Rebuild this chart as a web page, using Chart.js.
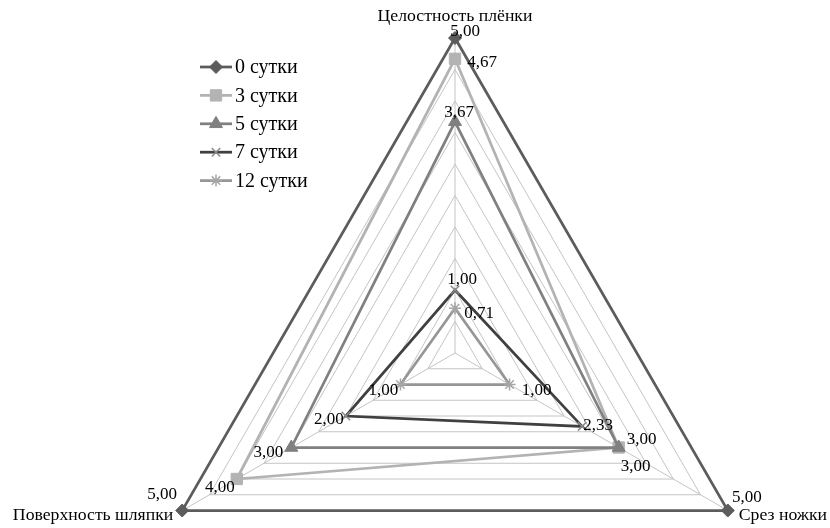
<!DOCTYPE html>
<html>
<head>
<meta charset="utf-8">
<title>Оценка качества</title>
<script src="https://cdn.jsdelivr.net/npm/chart.js@4/dist/chart.umd.min.js"></script>
<style>
  html, body { margin: 0; padding: 0; background: #ffffff; overflow: hidden; }
  #wrap { width: 830px; height: 528px; overflow: hidden; }
  #radar { display: block; }
</style>
</head>
<body>
<div id="wrap"><canvas id="radar" width="830" height="668"></canvas></div>
<script>
// Axes of the radar and the storage-day series
const categories = ['Целостность плёнки', 'Срез ножки', 'Поверхность шляпки'];
const seriesNames = ['0 сутки', '3 сутки', '5 сутки', '7 сутки', '12 сутки'];
const day0 = [5.00, 5.00, 5.00];
const day3 = [4.67, 3.00, 4.00];
const day5 = [3.67, 3.00, 3.00];
const day7 = [1.00, 2.33, 2.00];
const day12 = [0.71, 1.00, 1.00];
const scaleMin = 0;
const scaleMax = 5;
const scaleStep = 0.5;

const seriesValues = [day0, day3, day5, day7, day12];

// Look of each series: colour, marker, and where its value labels sit next to the points
const seriesStyles = [
  { color: '#5c5c5c', marker: 'rectRot', radius: 6.5, markerColor: '#5c5c5c', labelShift: [[10, -7], [19, -14], [-20, -17]] },
  { color: '#b3b3b3', marker: 'rect',    radius: 8,   markerColor: '#b3b3b3', labelShift: [[27, 3], [23, -9], [-17, 8]] },
  { color: '#808080', marker: 'triangle',radius: 7.5, markerColor: '#808080', labelShift: [[4, -10], [17, 18], [-23, 4]] },
  { color: '#404040', marker: 'crossRot',radius: 6,   markerColor: '#8a8a8a', labelShift: [[7, -11], [16, -2], [-17, 3]] },
  { color: '#969696', marker: 'star',    radius: 6,   markerColor: '#a6a6a6', labelShift: [[24, 4], [27, 5], [-17, 5]] }
];

const FONT_FAMILY = '"Liberation Serif", "Times New Roman", serif';
const TEXT_COLOR = '#000000';

function fmt(v) {
  return v.toFixed(2).replace('.', ',');
}

const datasets = seriesNames.map((name, i) => {
  const st = seriesStyles[i];
  return {
    label: name,
    data: seriesValues[i],
    borderColor: st.color,
    backgroundColor: 'rgba(0,0,0,0)',
    borderWidth: 2.75,
    fill: false,
    pointStyle: st.marker,
    pointRadius: st.radius,
    pointBorderColor: st.markerColor,
    pointBackgroundColor: st.markerColor,
    pointBorderWidth: (st.marker === 'crossRot' || st.marker === 'star') ? 1.5 : 1,
    order: seriesNames.length - i,
    labelShift: st.labelShift
  };
});

// Category names placed just outside each vertex
const axisTitlesPlugin = {
  id: 'axisTitles',
  afterDraw(chart) {
    const scale = chart.scales.r;
    const ctx = chart.ctx;
    ctx.save();
    ctx.font = '17.7px ' + FONT_FAMILY;
    ctx.fillStyle = TEXT_COLOR;
    ctx.textBaseline = 'middle';
    categories.forEach((name, i) => {
      const p = scale.getPointPositionForValue(i, scaleMax);
      if (i === 0) {
        ctx.textAlign = 'center';
        ctx.fillText(name, p.x, p.y - 22);
      } else if (p.x > scale.xCenter) {
        ctx.textAlign = 'left';
        ctx.fillText(name, p.x + 11, p.y + 5);
      } else {
        ctx.textAlign = 'right';
        ctx.fillText(name, p.x - 9, p.y + 5);
      }
    });
    ctx.restore();
  }
};

// Value labels next to every point
const valueLabelsPlugin = {
  id: 'valueLabels',
  afterDatasetsDraw(chart) {
    const ctx = chart.ctx;
    ctx.save();
    ctx.font = '17px ' + FONT_FAMILY;
    ctx.fillStyle = TEXT_COLOR;
    ctx.textAlign = 'center';
    ctx.textBaseline = 'middle';
    chart.data.datasets.forEach((ds, di) => {
      const meta = chart.getDatasetMeta(di);
      meta.data.forEach((pt, j) => {
        const shift = ds.labelShift[j];
        ctx.fillText(fmt(ds.data[j]), pt.x + shift[0], pt.y + shift[1] + 1);
      });
    });
    ctx.restore();
  }
};

// Legend drawn inside the plot, upper left
const insetLegendPlugin = {
  id: 'insetLegend',
  afterDraw(chart) {
    const ctx = chart.ctx;
    const x0 = 200, y0 = 67, rowGap = 28.4, lineLen = 32;
    ctx.save();
    chart.data.datasets.forEach((ds, i) => {
      const y = y0 + i * rowGap;
      ctx.strokeStyle = ds.borderColor;
      ctx.lineWidth = ds.borderWidth;
      ctx.beginPath();
      ctx.moveTo(x0, y);
      ctx.lineTo(x0 + lineLen, y);
      ctx.stroke();
      ctx.fillStyle = ds.pointBackgroundColor;
      ctx.strokeStyle = ds.pointBorderColor;
      ctx.lineWidth = ds.pointBorderWidth;
      Chart.helpers.drawPoint(ctx, { pointStyle: ds.pointStyle, radius: ds.pointRadius, rotation: 0, borderWidth: ds.pointBorderWidth }, x0 + lineLen / 2, y);
      ctx.fillStyle = TEXT_COLOR;
      ctx.font = '20px ' + FONT_FAMILY;
      ctx.textAlign = 'left';
      ctx.textBaseline = 'middle';
      ctx.fillText(ds.label, x0 + lineLen + 3, y + 1);
    });
    ctx.restore();
  }
};

new Chart(document.getElementById('radar'), {
  type: 'radar',
  data: { labels: categories, datasets: datasets },
  options: {
    responsive: false,
    devicePixelRatio: 1,
    animation: false,
    layout: { padding: { left: 140, right: 60, top: 38, bottom: 0 } },
    elements: { line: { tension: 0 } },
    plugins: {
      legend: { display: false },
      tooltip: { enabled: false }
    },
    scales: {
      r: {
        min: scaleMin,
        max: scaleMax,
        startAngle: 0,
        ticks: { display: false, stepSize: scaleStep },
        grid: { color: '#c4c4c4', lineWidth: 1, circular: false },
        angleLines: { color: '#c4c4c4', lineWidth: 1 },
        pointLabels: { display: false }
      }
    }
  },
  plugins: [axisTitlesPlugin, valueLabelsPlugin, insetLegendPlugin]
});
</script>
</body>
</html>
